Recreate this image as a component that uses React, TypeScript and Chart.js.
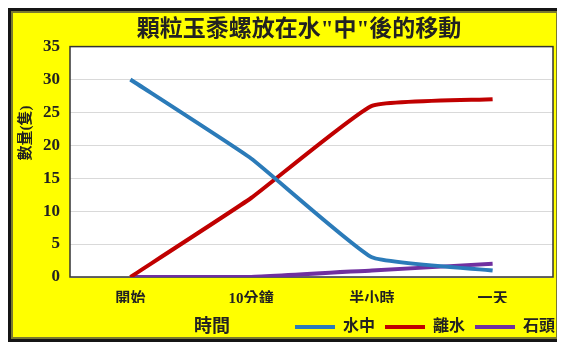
import React, { useEffect, useRef } from "react";
import { Chart, registerables } from "chart.js";

Chart.register(...registerables);

const categories = ["開始", "10分鐘", "半小時", "一天"];
const inWater = [30, 18, 3, 1];
const outOfWater = [0, 12, 26, 27];
const onRock = [0, 0, 1, 2];
const seriesNames = ["水中", "離水", "石頭"];
const seriesColors = ["#2b7bb9", "#c00000", "#7030a0"];
const titleText = '顆粒玉黍螺放在水"中"後的移動';
const yTitleText = "數量(隻)";
const xTitleText = "時間";

const FONT = "'Liberation Serif', 'Noto Sans CJK TC', serif";
const TEXT = "#222";
const CANVAS_W = 547;
const CANVAS_H = 328;
const LEGEND_DX = 12;
const LEGEND_DY = 6;
const TITLE_DX = 17;

export default function App() {
  const ref = useRef<HTMLCanvasElement | null>(null);

  useEffect(() => {
    if (!ref.current) return;
    const plotPlugin = {
      id: "plotDeco",
      afterLayout(chart: any) {
        const lg = chart.legend;
        if (lg) {
          lg.left += LEGEND_DX;
          lg.right += LEGEND_DX;
          lg.top += LEGEND_DY;
          lg.bottom += LEGEND_DY;
        }
        const tb = chart.titleBlock;
        if (tb) {
          tb.left += TITLE_DX;
          tb.right += TITLE_DX;
        }
      },
      beforeDraw(chart: any) {
        const { ctx, chartArea: a } = chart;
        ctx.save();
        ctx.fillStyle = "#ffffff";
        ctx.fillRect(a.left, a.top, a.right - a.left, a.bottom - a.top);
        ctx.restore();
      },
      beforeDatasetsDraw(chart: any) {
        const { ctx, chartArea: a } = chart;
        ctx.save();
        ctx.strokeStyle = "#333";
        ctx.lineWidth = 1.5;
        ctx.strokeRect(a.left, a.top, a.right - a.left, a.bottom - a.top);
        ctx.restore();
      },
      afterDraw(chart: any) {
        const { ctx } = chart;
        ctx.save();
        ctx.fillStyle = TEXT;
        ctx.textAlign = "center";
        ctx.textBaseline = "middle";
        ctx.font = `bold 15px ${FONT}`;
        ctx.translate(15, 122);
        ctx.rotate(-Math.PI / 2);
        ctx.fillText(yTitleText, 0, 0);
        ctx.restore();
        const lg = chart.legend;
        let ly = 314;
        if (lg && lg.legendHitBoxes && lg.legendHitBoxes.length) {
          const h = lg.legendHitBoxes[0];
          ly = h.top + h.height / 2;
        }
        ctx.save();
        ctx.fillStyle = TEXT;
        ctx.textAlign = "center";
        ctx.textBaseline = "middle";
        ctx.font = `bold 18px ${FONT}`;
        ctx.fillText(xTitleText, 201, ly);
        ctx.restore();
      },
    };

    const mk = (label: string, data: number[], color: string) => ({
      label,
      data,
      borderColor: color,
      backgroundColor: color,
      borderWidth: 4,
      pointRadius: 0,
      tension: 0.12,
      fill: false,
    });

    const chart = new Chart(ref.current, {
      type: "line",
      data: {
        labels: categories,
        datasets: [
          mk(seriesNames[0], inWater, seriesColors[0]),
          mk(seriesNames[1], outOfWater, seriesColors[1]),
          mk(seriesNames[2], onRock, seriesColors[2]),
        ],
      },
      options: {
        responsive: false,
        animation: false,
        layout: { padding: { left: 0, right: 5, top: 0, bottom: 0 } },
        plugins: {
          title: {
            display: true,
            text: titleText,
            color: TEXT,
            font: { family: FONT, size: 23, weight: "bold" },
            padding: { top: 5, bottom: 3 },
          },
          legend: {
            position: "bottom",
            align: "end",
            labels: {
              boxWidth: 40,
              boxHeight: 4,
              padding: 10,
              color: TEXT,
              font: { family: FONT, size: 16, weight: "bold" },
              generateLabels(chart: any) {
                const items = Chart.defaults.plugins.legend.labels.generateLabels(chart);
                return items.map((it: any) => ({ ...it, lineWidth: 0 }));
              },
            },
          },
          tooltip: { enabled: false },
        },
        scales: {
          x: {
            offset: true,
            grid: { display: false, drawTicks: false },
            border: { display: false },
            ticks: {
              color: TEXT,
              padding: 13,
              font: { family: FONT, size: 15, weight: "bold" },
            },
            afterFit(scale: any) {
              const lg = scale.chart.legend;
              const lh = lg ? lg.height : 36;
              scale.height = Math.max(10, CANVAS_H - 266 - lh);
            },
          },
          y: {
            min: 0,
            max: 35,
            grid: { color: "#d9d9d9", lineWidth: 1, drawTicks: false },
            border: { display: false },
            ticks: {
              stepSize: 5,
              color: TEXT,
              padding: 10,
              font: { family: FONT, size: 17, weight: "bold" },
            },
            afterFit(scale: any) {
              scale.width = 59;
            },
          },
        },
      },
      plugins: [plotPlugin],
    });
    return () => chart.destroy();
  }, []);

  return (
    <div
      style={{
        width: CANVAS_W + 6,
        height: CANVAS_H + 6,
        boxSizing: "border-box",
        border: "3px solid #151515",
        boxShadow: "inset 0 0 0 2px #7a7a30",
        background: "#ffff00",
      }}
    >
      <canvas ref={ref} width={CANVAS_W} height={CANVAS_H} style={{ display: "block" }} />
    </div>
  );
}
